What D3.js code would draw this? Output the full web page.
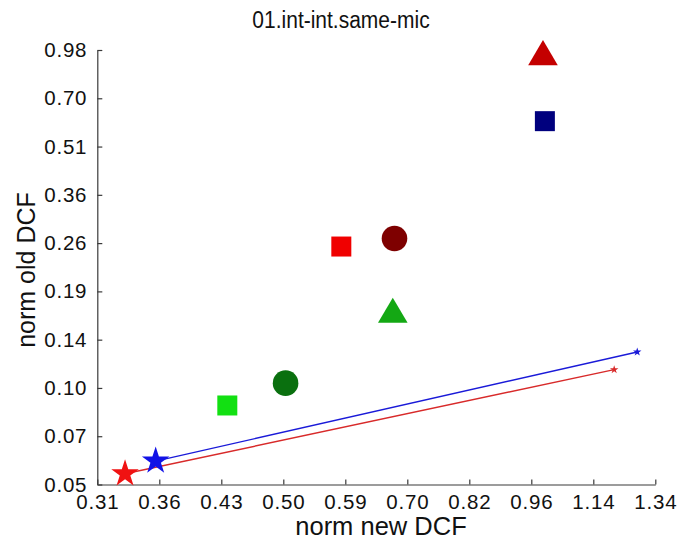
<!DOCTYPE html>
<html>
<head>
<meta charset="utf-8">
<script src="https://cdn.jsdelivr.net/npm/d3@7"></script>
<style>
  html, body { margin: 0; padding: 0; background: #fff; }
  svg { display: block; font-family: "Liberation Sans", Arial, Helvetica, sans-serif; }
</style>
</head>
<body>
<svg id="chart" width="677" height="541"></svg>
<script>
// ---- data ----
const titleText = "01.int-int.same-mic";
const xLabelText = "norm new DCF";
const yLabelText = "norm old DCF";

const xTickLabels = ["0.31", "0.36", "0.43", "0.50", "0.59", "0.70", "0.82", "0.96", "1.14", "1.34"];
const yTickLabels = ["0.05", "0.07", "0.10", "0.14", "0.19", "0.26", "0.36", "0.51", "0.70", "0.98"];
const xDomain = [0.31, 1.34];
const yDomain = [0.05, 0.98];

const pointNames  = ["A", "B", "C", "D", "E", "F", "G", "H", "I"];
const pointX      = [0.998, 1.003, 0.676, 0.588, 0.673, 0.508, 0.436, 0.3334, 0.3613];
const pointY      = [0.962, 0.602, 0.2695, 0.2551, 0.1649, 0.1001, 0.0859, 0.0538, 0.0587];
const pointShapes = ["triangle", "square", "circle", "square", "triangle", "circle", "square", "star", "star"];

const blueLineX = [0.3613, 1.278];
const blueLineY = [0.0587, 0.1239];
const redLineX  = [0.3334, 1.203];
const redLineY  = [0.0538, 0.1098];

// ---- styles ----
const pointColors = ["#c40000", "#00007e", "#7e0000", "#f00000", "#14a814", "#0a700f", "#12e012", "#f01212", "#1212e6"];
const blueLineColor = "#1a1ad8";
const redLineColor = "#d82a2a";
const axisColor = "#3a3a3a";

// ---- layout ----
const svg = d3.select("#chart");
const plotLeft = 97.3, plotRight = 655.3, plotTop = 50, plotBottom = 484.5;

const x = d3.scaleLog().domain(xDomain).range([plotLeft, plotRight]);
const y = d3.scaleLog().domain(yDomain).range([plotBottom, plotTop]);

// tick positions evenly spaced in log between domain ends
const xTickVals = xTickLabels.map((_, i) => Math.exp(Math.log(xDomain[0]) + i * (Math.log(xDomain[1]) - Math.log(xDomain[0])) / (xTickLabels.length - 1)));
const yTickVals = yTickLabels.map((_, i) => Math.exp(Math.log(yDomain[0]) + i * (Math.log(yDomain[1]) - Math.log(yDomain[0])) / (yTickLabels.length - 1)));

// x axis
const xAxis = d3.axisBottom(x).tickValues(xTickVals)
  .tickFormat((d, i) => xTickLabels[i]).tickSizeInner(-5).tickSizeOuter(0).tickPadding(10);
const gx = svg.append("g").attr("transform", `translate(0,${plotBottom})`).call(xAxis);
gx.select(".domain").attr("stroke", axisColor).attr("stroke-width", 1.2);
gx.selectAll(".tick line").attr("stroke", axisColor).attr("stroke-width", 1.2);
gx.selectAll(".tick text").attr("fill", "#111").style("font-size", "20.5px")
  .style("letter-spacing", "0.8px").style("font-family", "'Liberation Sans', Arial, sans-serif");

// y axis
const yAxis = d3.axisLeft(y).tickValues(yTickVals)
  .tickFormat((d, i) => yTickLabels[i]).tickSizeInner(-5).tickSizeOuter(0).tickPadding(10);
const gy = svg.append("g").attr("transform", `translate(${plotLeft},0)`).call(yAxis);
gy.select(".domain").attr("stroke", axisColor).attr("stroke-width", 1.2);
gy.selectAll(".tick line").attr("stroke", axisColor).attr("stroke-width", 1.2);
gy.selectAll(".tick text").attr("fill", "#111").style("font-size", "20.5px")
  .style("letter-spacing", "0.8px").style("font-family", "'Liberation Sans', Arial, sans-serif");

// lines
const line = d3.line().x(d => x(d[0])).y(d => y(d[1]));
const blueData = blueLineX.map((v, i) => [v, blueLineY[i]]);
const redData = redLineX.map((v, i) => [v, redLineY[i]]);
svg.append("path").attr("d", line(redData)).attr("fill", "none").attr("stroke", redLineColor).attr("stroke-width", 1.4);
svg.append("path").attr("d", line(blueData)).attr("fill", "none").attr("stroke", blueLineColor).attr("stroke-width", 1.4);

// small star markers at line ends
const smallStar = d3.symbol().type(d3.symbolStar).size(22)();
svg.append("path").attr("d", smallStar)
  .attr("transform", `translate(${x(blueLineX[1])},${y(blueLineY[1])})`).attr("fill", blueLineColor);
svg.append("path").attr("d", smallStar)
  .attr("transform", `translate(${x(redLineX[1])},${y(redLineY[1])})`).attr("fill", redLineColor);

// markers
function markerPath(shape) {
  if (shape === "triangle") {
    const hw = 14.8, hh = 12.6;
    return `M0,${-hh}L${hw},${hh}L${-hw},${hh}Z`;
  }
  if (shape === "square") return d3.symbol().type(d3.symbolSquare).size(400)();
  if (shape === "circle") return d3.symbol().type(d3.symbolCircle).size(Math.PI * 12.8 * 12.8)();
  if (shape === "star") return d3.symbol().type(d3.symbolStar).size(235)();
  return "";
}

svg.append("g").selectAll("path.pt")
  .data(pointNames.map((n, i) => ({ n, x: pointX[i], y: pointY[i], s: pointShapes[i], c: pointColors[i] })))
  .join("path")
  .attr("class", "pt")
  .attr("d", d => markerPath(d.s))
  .attr("transform", d => `translate(${x(d.x)},${y(d.y)})`)
  .attr("fill", d => d.c);

// title and labels
svg.append("text").attr("transform", "translate(341,28) scale(1,1.1)").attr("text-anchor", "middle")
  .style("font-size", "21px").attr("fill", "#111").text(titleText);
svg.append("text").attr("x", 381).attr("y", 535).attr("text-anchor", "middle")
  .style("font-size", "25.5px").attr("fill", "#111").text(xLabelText);
svg.append("text").attr("transform", "translate(35,270) rotate(-90)").attr("text-anchor", "middle")
  .style("font-size", "25px").attr("fill", "#111").text(yLabelText);
</script>
</body>
</html>
